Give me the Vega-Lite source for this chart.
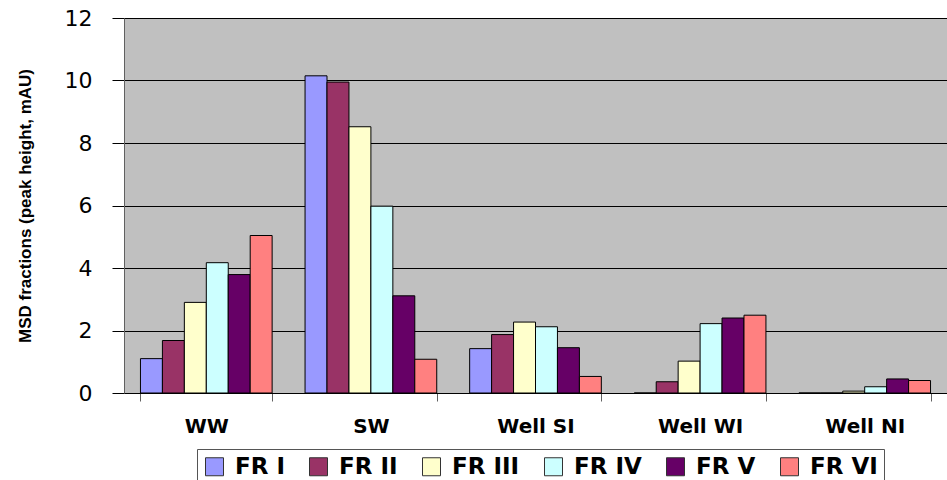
{
  "$schema": "https://vega.github.io/schema/vega-lite/v6.json",
  "autosize": "none",
  "padding": {"left": 124, "top": 18, "right": 0, "bottom": 87},
  "width": 823,
  "height": 375,
  "background": "white",
  "config": {
    "view": {"fill": "#C0C0C0", "stroke": "#808080", "strokeWidth": 1},
    "font": "Liberation Sans"
  },
  "data": {
    "values": [
      {"site": "WW", "fraction": "FR I", "value": 1.1},
      {"site": "WW", "fraction": "FR II", "value": 1.68},
      {"site": "WW", "fraction": "FR III", "value": 2.9},
      {"site": "WW", "fraction": "FR IV", "value": 4.17},
      {"site": "WW", "fraction": "FR V", "value": 3.79},
      {"site": "WW", "fraction": "FR VI", "value": 5.04},
      {"site": "SW", "fraction": "FR I", "value": 10.15},
      {"site": "SW", "fraction": "FR II", "value": 9.95},
      {"site": "SW", "fraction": "FR III", "value": 8.52},
      {"site": "SW", "fraction": "FR IV", "value": 5.98},
      {"site": "SW", "fraction": "FR V", "value": 3.11},
      {"site": "SW", "fraction": "FR VI", "value": 1.08},
      {"site": "Well SI", "fraction": "FR I", "value": 1.42},
      {"site": "Well SI", "fraction": "FR II", "value": 1.87},
      {"site": "Well SI", "fraction": "FR III", "value": 2.27},
      {"site": "Well SI", "fraction": "FR IV", "value": 2.12},
      {"site": "Well SI", "fraction": "FR V", "value": 1.45},
      {"site": "Well SI", "fraction": "FR VI", "value": 0.53},
      {"site": "Well WI", "fraction": "FR I", "value": 0},
      {"site": "Well WI", "fraction": "FR II", "value": 0.36},
      {"site": "Well WI", "fraction": "FR III", "value": 1.02},
      {"site": "Well WI", "fraction": "FR IV", "value": 2.22},
      {"site": "Well WI", "fraction": "FR V", "value": 2.4},
      {"site": "Well WI", "fraction": "FR VI", "value": 2.49},
      {"site": "Well NI", "fraction": "FR I", "value": 0},
      {"site": "Well NI", "fraction": "FR II", "value": 0},
      {"site": "Well NI", "fraction": "FR III", "value": 0.06},
      {"site": "Well NI", "fraction": "FR IV", "value": 0.2},
      {"site": "Well NI", "fraction": "FR V", "value": 0.45},
      {"site": "Well NI", "fraction": "FR VI", "value": 0.4}
    ]
  },
  "mark": {"type": "bar", "stroke": "black", "strokeWidth": 1},
  "encoding": {
    "x": {
      "field": "site",
      "type": "nominal",
      "sort": ["WW", "SW", "Well SI", "Well WI", "Well NI"],
      "scale": {"paddingInner": 0.2, "paddingOuter": 0.1},
      "axis": {
        "title": null,
        "labelAngle": 0,
        "labelFont": "DejaVu Sans",
        "labelFontSize": 20,
        "labelFontWeight": "bold",
        "labelColor": "black",
        "labelPadding": 15,
        "tickBand": "extent",
        "tickSize": 8,
        "tickColor": "#606060",
        "domainColor": "black",
        "grid": false
      }
    },
    "xOffset": {
      "field": "fraction",
      "type": "nominal",
      "sort": ["FR I", "FR II", "FR III", "FR IV", "FR V", "FR VI"],
      "scale": {"paddingInner": 0, "paddingOuter": 0}
    },
    "y": {
      "field": "value",
      "type": "quantitative",
      "scale": {"domain": [0, 12], "nice": false},
      "axis": {
        "title": "MSD fractions (peak height, mAU)",
        "titleFontSize": 17,
        "titleFontWeight": "bold",
        "titleColor": "black",
        "titlePadding": 30,
        "values": [0, 2, 4, 6, 8, 10, 12],
        "labelFont": "DejaVu Sans",
        "labelFontSize": 22,
        "labelColor": "black",
        "labelPadding": 20,
        "tickSize": 12,
        "tickColor": "black",
        "domainColor": "#606060",
        "grid": true,
        "gridColor": "black",
        "gridOpacity": 1
      }
    },
    "color": {
      "field": "fraction",
      "type": "nominal",
      "sort": ["FR I", "FR II", "FR III", "FR IV", "FR V", "FR VI"],
      "scale": {
        "domain": ["FR I", "FR II", "FR III", "FR IV", "FR V", "FR VI"],
        "range": ["#9999FF", "#993366", "#FFFFCC", "#CCFFFF", "#660066", "#FF8080"]
      },
      "legend": {
        "title": null,
        "orient": "none",
        "direction": "horizontal",
        "legendX": 73,
        "legendY": 431,
        "symbolType": "square",
        "symbolSize": 324,
        "symbolStrokeColor": "#333333",
        "symbolStrokeWidth": 1,
        "symbolOpacity": 1,
        "labelFont": "DejaVu Sans",
        "labelFontSize": 23,
        "labelFontWeight": "bold",
        "labelColor": "black",
        "labelLimit": 200,
        "columnPadding": 22,
        "labelOffset": 9,
        "strokeColor": "#555555",
        "padding": 6,
        "fillColor": "white"
      }
    }
  }
}
